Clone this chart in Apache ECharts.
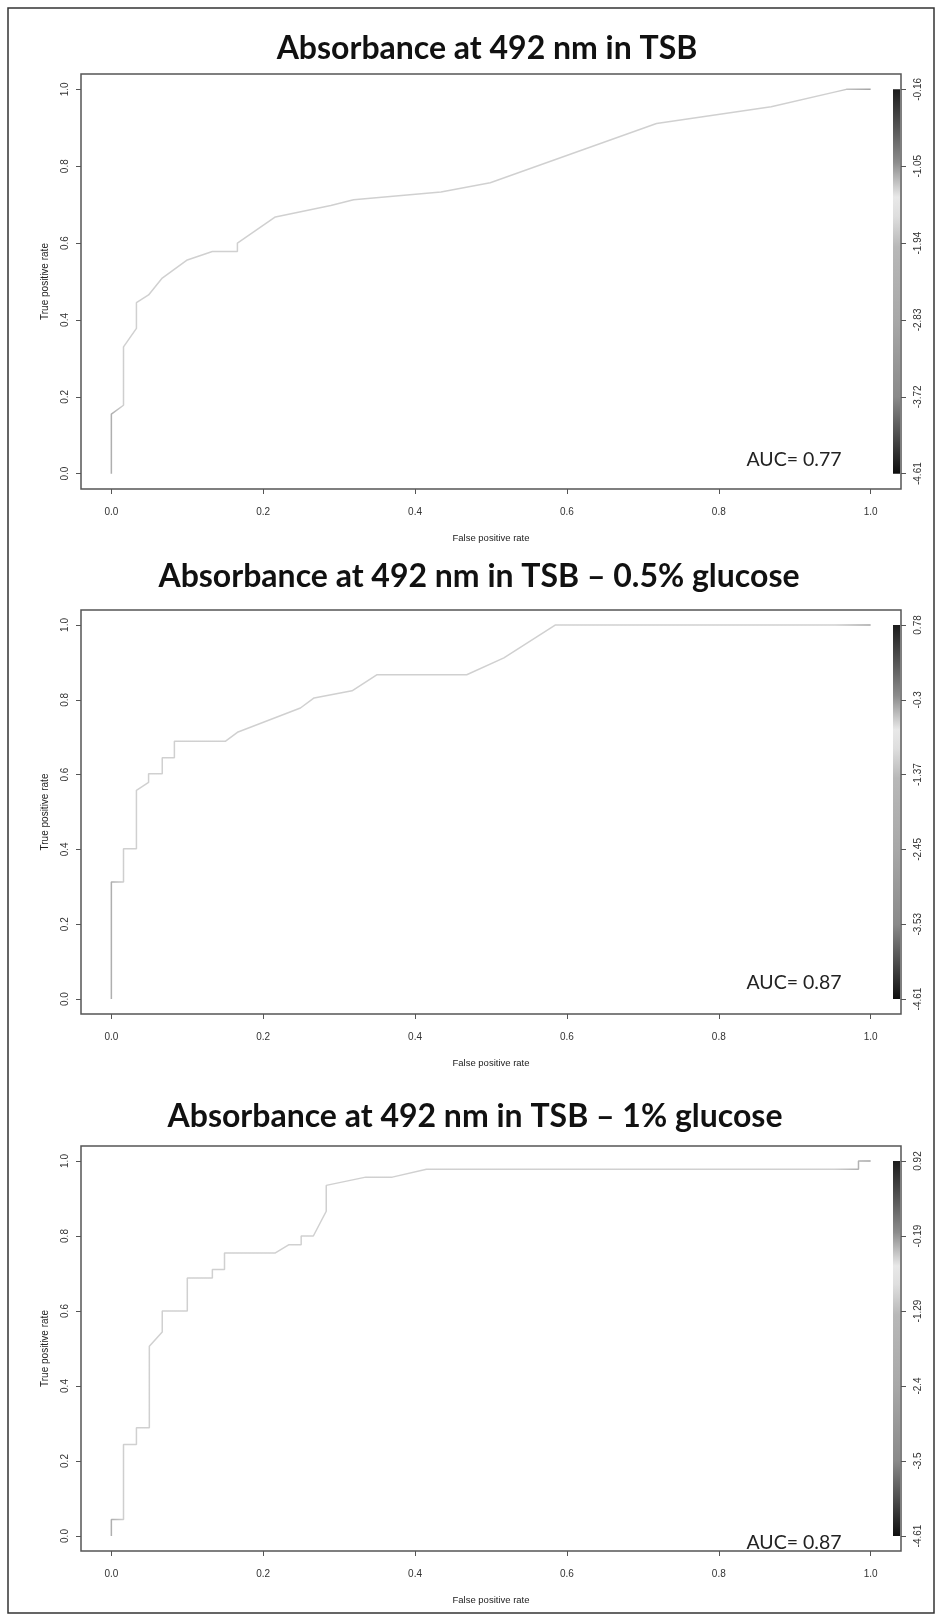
<!DOCTYPE html>
<html>
<head>
<meta charset="utf-8">
<script src="https://cdn.jsdelivr.net/npm/echarts@6/dist/echarts.min.js"></script>
<style>
html, body { margin: 0; padding: 0; background: #fff; }
#main { width: 941px; height: 1621px; }
</style>
</head>
<body>
<div id="main"></div>
<script>
// ROC points (false positive rate / true positive rate)
const fprTsb = [0, 0, 0.016, 0.016, 0.033, 0.033, 0.049, 0.067, 0.1, 0.133, 0.166, 0.166, 0.216, 0.289, 0.319, 0.434, 0.499, 0.718, 0.869, 0.968, 1.0];
const tprTsb = [0, 0.155, 0.178, 0.33, 0.378, 0.445, 0.465, 0.509, 0.556, 0.578, 0.578, 0.6, 0.668, 0.698, 0.713, 0.733, 0.757, 0.911, 0.955, 1.0, 1.0];

const fprGlc05 = [0, 0, 0.016, 0.016, 0.033, 0.033, 0.049, 0.049, 0.067, 0.067, 0.083, 0.083, 0.15, 0.166, 0.249, 0.267, 0.317, 0.35, 0.468, 0.517, 0.585, 1.0];
const tprGlc05 = [0, 0.313, 0.313, 0.402, 0.402, 0.558, 0.579, 0.602, 0.602, 0.645, 0.645, 0.689, 0.689, 0.713, 0.778, 0.805, 0.824, 0.867, 0.867, 0.912, 1.0, 1.0];

const fprGlc1 = [0, 0, 0.016, 0.016, 0.033, 0.033, 0.05, 0.05, 0.067, 0.067, 0.1, 0.1, 0.133, 0.133, 0.149, 0.149, 0.216, 0.234, 0.25, 0.25, 0.266, 0.283, 0.283, 0.335, 0.37, 0.415, 0.984, 0.984, 1.0];
const tprGlc1 = [0, 0.044, 0.044, 0.244, 0.244, 0.289, 0.289, 0.506, 0.544, 0.6, 0.6, 0.688, 0.688, 0.711, 0.711, 0.755, 0.755, 0.777, 0.777, 0.8, 0.8, 0.866, 0.935, 0.957, 0.957, 0.978, 0.978, 1.0, 1.0];

// axis ticks and colour-bar (cutoff) labels, bottom to top
const rateTicks = [0, 0.2, 0.4, 0.6, 0.8, 1.0];
const cutoffTsb = ['-4.61', '-3.72', '-2.83', '-1.94', '-1.05', '-0.16'];
const cutoffGlc05 = ['-4.61', '-3.53', '-2.45', '-1.37', '-0.3', '0.78'];
const cutoffGlc1 = ['-4.61', '-3.5', '-2.4', '-1.29', '-0.19', '0.92'];

const titles = ['Absorbance at 492 nm in TSB', 'Absorbance at 492 nm in TSB \u2013 0.5% glucose', 'Absorbance at 492 nm in TSB \u2013 1% glucose'];
const aucLabels = ['AUC= 0.77', 'AUC= 0.87', 'AUC= 0.87'];

const panels = [
    {fpr: fprTsb, tpr: tprTsb, cutoff: cutoffTsb, top: 74, height: 415, titleX: 487, titleY: 49, aucY: 459.5},
    {fpr: fprGlc05, tpr: tprGlc05, cutoff: cutoffGlc05, top: 610, height: 404, titleX: 479, titleY: 576.5, aucY: 983},
    {fpr: fprGlc1, tpr: tprGlc1, cutoff: cutoffGlc1, top: 1146, height: 405, titleX: 475, titleY: 1116.5, aucY: 1543},
];

// grey palette of the cutoff colour bar, top (high cutoff) to bottom
const barStops = [
    {offset: 0, color: '#1c1c1c'}, {offset: 0.1, color: '#555555'}, {offset: 0.19, color: '#8c8c8c'},
    {offset: 0.28, color: '#e8e8e8'}, {offset: 0.33, color: '#dedede'}, {offset: 0.41, color: '#b8b8b8'},
    {offset: 0.6, color: '#a8a8a8'}, {offset: 0.8, color: '#8a8a8a'}, {offset: 0.9, color: '#4e4e4e'},
    {offset: 1, color: '#0e0e0e'},
];

const tickFont = {fontFamily: 'Liberation Sans', fontSize: 10, color: '#333'};

let chart = echarts.init(document.getElementById('main'));
let grid = [], xAxis = [], yAxis = [], series = [], graphic = [];

panels.forEach(function (p, i) {
    grid.push({
        left: 81, right: 40, top: p.top, height: p.height,
        show: true, borderColor: '#555', borderWidth: 1.5,
        outerBoundsMode: 'none',
    });
    xAxis.push({
        gridIndex: i, type: 'value', min: -0.04, max: 1.04,
        axisLine: {show: false, onZero: false},
        axisTick: {show: true, length: 5, customValues: rateTicks, lineStyle: {color: '#555'}},
        axisLabel: Object.assign({customValues: rateTicks, margin: 18, formatter: v => v.toFixed(1)}, tickFont),
        splitLine: {show: false},
        name: 'False positive rate', nameLocation: 'middle', nameGap: 44,
        nameTextStyle: {fontFamily: 'Liberation Sans', fontSize: 9.5, color: '#222'},
    });
    yAxis.push({
        gridIndex: i, type: 'value', min: -0.04, max: 1.04,
        axisLine: {show: false, onZero: false},
        axisTick: {show: true, length: 5, customValues: rateTicks, lineStyle: {color: '#555'}},
        axisLabel: Object.assign({customValues: rateTicks, margin: 11, rotate: 90, formatter: v => v.toFixed(1)}, tickFont),
        splitLine: {show: false},
        name: 'True positive rate', nameLocation: 'middle', nameGap: 31, nameRotate: 90,
        nameTextStyle: {fontFamily: 'Liberation Sans', fontSize: 10, color: '#222'},
    });
    yAxis.push({
        gridIndex: i, type: 'value', min: -0.04, max: 1.04, position: 'right',
        axisLine: {show: false, onZero: false},
        axisTick: {show: true, length: 5, customValues: rateTicks, lineStyle: {color: '#555'}},
        axisLabel: Object.assign({customValues: rateTicks, margin: 12, rotate: 90,
            formatter: v => p.cutoff[Math.round(v * 5)]}, tickFont),
        splitLine: {show: false},
    });
    series.push({
        type: 'line', xAxisIndex: i, yAxisIndex: i * 2,
        data: p.fpr.map((x, k) => [x, p.tpr[k]]),
        showSymbol: false, silent: true,
        lineStyle: {
            width: 1.5,
            color: new echarts.graphic.LinearGradient(0, 0, 1, 0, [
                {offset: 0, color: '#a8a8a8'}, {offset: 0.02, color: '#d0d0d0'},
                {offset: 0.95, color: '#d0d0d0'}, {offset: 1, color: '#a0a0a0'},
            ]),
        },
    });
    // colour bar inside the right edge of the plot box
    series.push({
        type: 'custom', xAxisIndex: i, yAxisIndex: i * 2, silent: true,
        data: [[0, 0]],
        renderItem: function (params, api) {
            let cs = params.coordSys;
            let top = api.coord([0, 1])[1];
            let bottom = api.coord([0, 0])[1];
            return {
                type: 'rect',
                shape: {x: cs.x + cs.width - 8, y: top, width: 7, height: bottom - top},
                style: {fill: new echarts.graphic.LinearGradient(0, 0, 0, 1, barStops)},
            };
        },
    });
    graphic.push({
        type: 'text', x: p.titleX, y: p.titleY,
        style: {text: titles[i], font: 'bold 32px Lato', fill: '#111', textAlign: 'center', textVerticalAlign: 'middle'},
    });
    graphic.push({
        type: 'text', x: 794, y: p.aucY,
        style: {text: aucLabels[i], font: '19.5px Lato', fill: '#222', textAlign: 'center', textVerticalAlign: 'middle'},
    });
});

graphic.push({
    type: 'rect', shape: {x: 8, y: 8, width: 926, height: 1605},
    style: {fill: 'none', stroke: '#333', lineWidth: 1.5},
});

chart.setOption({
    animation: false,
    backgroundColor: '#fff',
    grid: grid,
    xAxis: xAxis,
    yAxis: yAxis,
    series: series,
    graphic: graphic,
});
</script>
</body>
</html>
